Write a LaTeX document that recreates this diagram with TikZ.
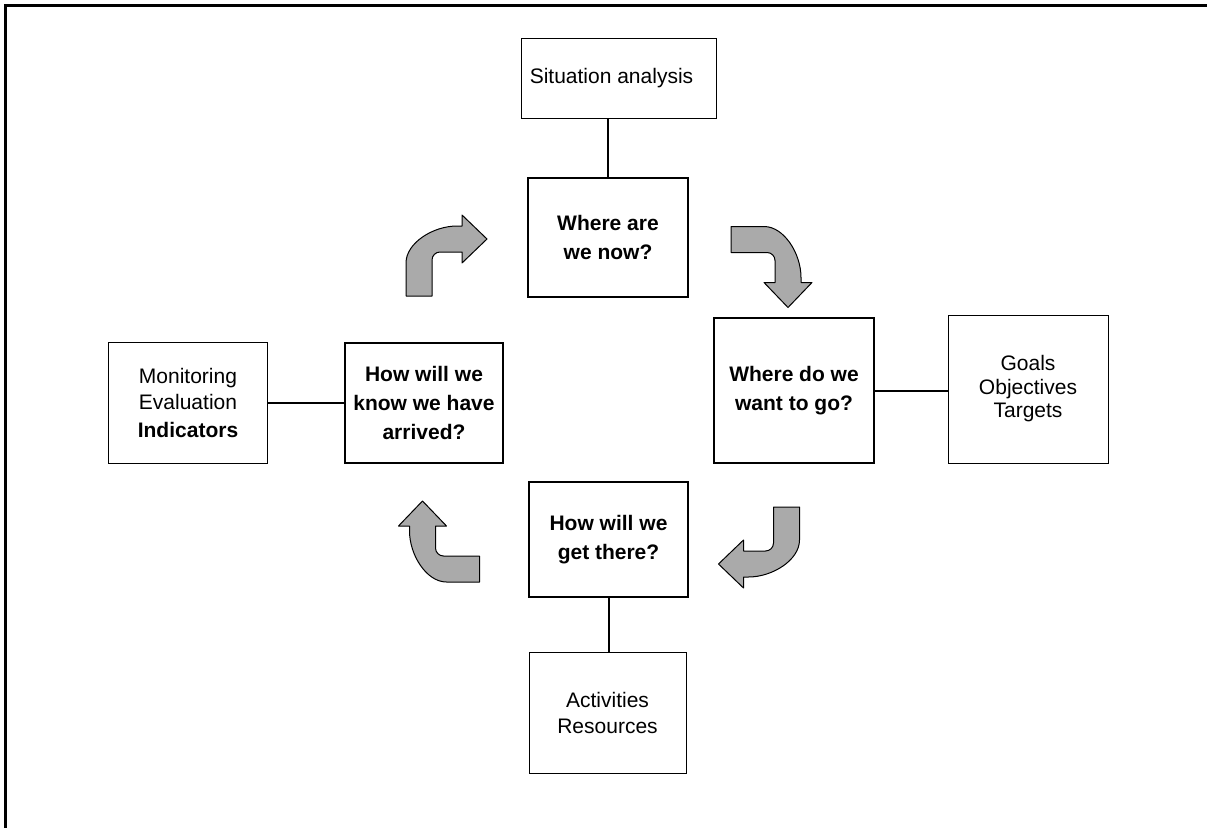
\documentclass[tikz,border=0pt]{standalone}
\usepackage{fontspec}
\setmainfont{Liberation Sans}
\definecolor{arrowgray}{RGB}{170,170,170}
\tikzset{
  thinbox/.style={draw, line width=1pt, inner sep=0pt, align=center, font=\fontsize{21}{26}\selectfont},
  thickbox/.style={draw, line width=2.6pt, inner sep=0pt, align=center, font=\fontsize{21}{29}\selectfont\bfseries},
  link/.style={line width=2pt},
  bentarrow/.style={fill=arrowgray, draw=black, line width=1pt, line join=round},
}
\newcommand{\bentarrowpath}{%
  (-13,57) -- (-13,24)
  .. controls (-13,4) and (14,-13) .. (38,-13)
  -- (43,-13) -- (43,-24) -- (68,0) -- (43,24) -- (43,13) -- (21,13)
  .. controls (16.6,13) and (13,16.6) .. (13,21) -- (13,57) -- cycle}
\begin{document}
\begin{tikzpicture}[x=1pt,y=-1pt]
\useasboundingbox (0,0) rectangle (1207,827);
\fill[white] (0,0) rectangle (1207,827);
\draw[line width=3pt] (5,830) -- (5,5) -- (1210,5);

% outer boxes
\node[thinbox, minimum width=195pt, minimum height=80pt] (sit) at (618.5,78) {Situation analysis\hspace*{14pt}};
\node[thinbox, minimum width=160pt, minimum height=148pt, font=\fontsize{21}{23.5}\selectfont] (goals) at (1028,389) {Goals\\Objectives\\Targets};
\node[thinbox, minimum width=159pt, minimum height=121pt] (mon) at (188,402.5) {Monitoring\\Evaluation\\[2pt]\textbf{Indicators}};
\node[thinbox, minimum width=157pt, minimum height=121pt] (act) at (607.5,712.5) {Activities\\Resources};

% central boxes
\node[thickbox, minimum width=160pt, minimum height=119pt] (now) at (608,237.5) {Where are\\we now?};
\node[thickbox, minimum width=160pt, minimum height=145pt] (go) at (794,390.5) {Where do we\\want to go?};
\node[thickbox, minimum width=158pt, minimum height=120pt] (know) at (424,403) {How will we\\know we have\\arrived?};
\node[thickbox, minimum width=159pt, minimum height=115pt] (get) at (608.5,539.5) {How will we\\get there?};

% connectors
\draw[link] (now.north |- sit.south) -- (now.north);
\draw[link] (go.east) -- (goals.west |- go.east);
\draw[link] (mon.east |- know.west) -- (know.west);
\draw[link] (get.south) -- (act.north -| get.south);

% bent arrows
\begin{scope}[shift={(419,239)}]
  \draw[bentarrow] \bentarrowpath;
\end{scope}
\begin{scope}[shift={(788,239.5)}, rotate=-90]
  \draw[bentarrow] \bentarrowpath;
\end{scope}
\begin{scope}[shift={(786.5,564)}, rotate=180]
  \draw[bentarrow] \bentarrowpath;
\end{scope}
\begin{scope}[shift={(422.5,569)}, rotate=90]
  \draw[bentarrow] \bentarrowpath;
\end{scope}
\end{tikzpicture}
\end{document}
